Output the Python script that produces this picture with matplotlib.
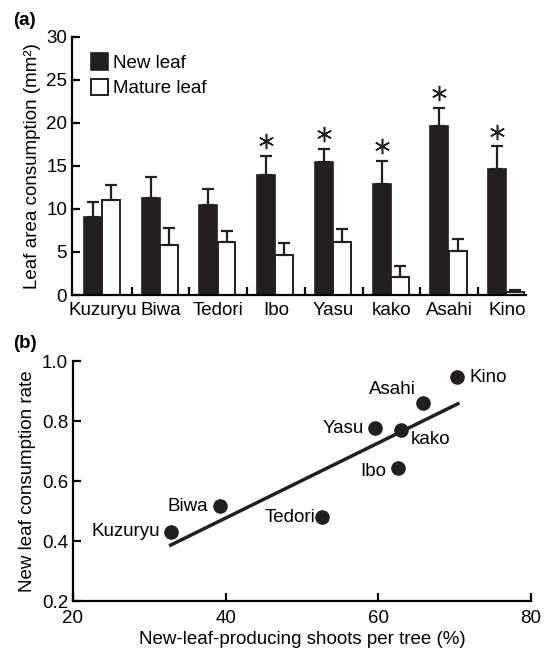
import numpy as np
import matplotlib
matplotlib.use('Agg')
import matplotlib.pyplot as plt

plt.rcParams['font.family'] = ['Liberation Sans', 'DejaVu Sans']

# (a) leaf area consumption per river population
rivers = ['Kuzuryu', 'Biwa', 'Tedori', 'Ibo', 'Yasu', 'kako', 'Asahi', 'Kino']
new_leaf = [9.05, 11.25, 10.4, 13.95, 15.4, 12.95, 19.6, 14.65]
new_leaf_err = [1.7, 2.4, 1.9, 2.2, 1.55, 2.6, 2.15, 2.6]
mature_leaf = [11.0, 5.8, 6.2, 4.65, 6.15, 2.1, 5.15, 0.35]
mature_leaf_err = [1.8, 1.95, 1.25, 1.35, 1.5, 1.3, 1.3, 0.2]
significant = [False, False, False, True, True, True, True, True]

# (b) new-leaf consumption rate vs shoots
shoots_pct = [32.8, 39.3, 52.6, 62.6, 59.6, 63.0, 65.8, 70.3]
consumption_rate = [0.433, 0.517, 0.480, 0.646, 0.777, 0.771, 0.861, 0.948]
fit_x = [32.8, 70.4]
fit_y = [0.388, 0.859]

# label placement for panel (b), offsets in points
label_style = {
    'Kuzuryu': ((-8, 0), 'right'),
    'Biwa': ((-8.5, 0), 'right'),
    'Tedori': ((-5, 0), 'right'),
    'Ibo': ((-9, -2.5), 'right'),
    'Yasu': ((-8, 0), 'right'),
    'kako': ((6.5, -7), 'left'),
    'Asahi': ((-5, 10), 'right'),
    'Kino': ((9, 0), 'left'),
}

fs = 13.5
lw = 1.6

fig = plt.figure(figsize=(5.48, 6.54), dpi=100)
ax1 = fig.add_axes([0.1314, 0.5489, 0.8285, 0.395])
ax2 = fig.add_axes([0.1332, 0.0803, 0.836, 0.367])

# ---- panel (a) ----
idx = np.arange(len(rivers))
x_new = idx + 0.33
x_mat = idx + 0.645
w = 0.31
ax1.bar(x_new, new_leaf, width=w, color='#231f20', edgecolor='#231f20',
        linewidth=1.2, label='New leaf', zorder=2)
ax1.bar(x_mat, mature_leaf, width=w, color='white', edgecolor='#231f20',
        linewidth=1.4, label='Mature leaf', zorder=2)
ax1.errorbar(x_new, new_leaf, yerr=[np.zeros(len(rivers)), new_leaf_err],
             fmt='none', ecolor='#231f20', elinewidth=1.6, capsize=4,
             capthick=1.6, zorder=3)
ax1.errorbar(x_mat, mature_leaf, yerr=[np.zeros(len(rivers)), mature_leaf_err],
             fmt='none', ecolor='#231f20', elinewidth=1.6, capsize=4,
             capthick=1.6, zorder=3)

# asterisks over significant pairs
star_x = [x_new[i] for i in idx if significant[i]]
star_y = [new_leaf[i] + new_leaf_err[i] + 1.7 for i in idx if significant[i]]
ax1.plot(star_x, star_y, linestyle='none', marker=(6, 2, 0), markersize=11,
         markeredgewidth=1.1, color='#231f20')

ax1.set_xlim(-0.03, 7.83)
ax1.set_ylim(0, 30)
ax1.set_yticks(range(0, 31, 5))
ax1.set_xticks(range(1, 8))
ax1.set_xticklabels([])
ax1.set_xticks(idx + 0.5, minor=True)
ax1.set_xticklabels(rivers, minor=True, fontsize=fs)
ax1.tick_params(axis='x', which='minor', length=0, pad=5)
ax1.tick_params(axis='both', which='major', direction='in', length=5.5,
                width=lw, labelsize=fs)
ax1.set_ylabel('Leaf area consumption (mm²)', fontsize=fs, labelpad=4)
ax1.legend(loc='upper left', bbox_to_anchor=(0.025, 0.965), frameon=False,
           fontsize=fs, handlelength=0.9, handleheight=1.0,
           handletextpad=0.3, labelspacing=0.35, borderaxespad=0)

# ---- panel (b) ----
ax2.plot(shoots_pct, consumption_rate, linestyle='none', marker='o',
         markersize=9.5, color='#231f20', zorder=3)
ax2.plot(fit_x, fit_y, color='#231f20', linewidth=2.5, zorder=2)
for name, xv, yv in zip(rivers, shoots_pct, consumption_rate):
    off, ha = label_style[name]
    ax2.annotate(name, (xv, yv), xytext=off, textcoords='offset points',
                 ha=ha, va='center', fontsize=fs)

ax2.set_xlim(20, 80)
ax2.set_ylim(0.2, 1.0)
ax2.set_xticks([20, 40, 60, 80])
ax2.set_yticks([0.2, 0.4, 0.6, 0.8, 1.0])
ax2.set_yticklabels(['0.2', '0.4', '0.6', '0.8', '1.0'])
ax2.tick_params(axis='both', direction='in', length=5.5, width=lw,
                labelsize=fs)
ax2.tick_params(axis='x', pad=6)
ax2.set_xlabel('New-leaf-producing shoots per tree (%)', fontsize=fs,
               labelpad=3)
ax2.set_ylabel('New leaf consumption rate', fontsize=fs, labelpad=4)

for ax in (ax1, ax2):
    ax.spines['top'].set_visible(False)
    ax.spines['right'].set_visible(False)
    ax.spines['left'].set_linewidth(lw)
    ax.spines['bottom'].set_linewidth(lw)

fig.text(0.024, 0.982, '(a)', fontsize=fs, fontweight='bold', va='top')
fig.text(0.024, 0.488, '(b)', fontsize=fs, fontweight='bold', va='top')

fig.savefig('out.png', dpi=100)
